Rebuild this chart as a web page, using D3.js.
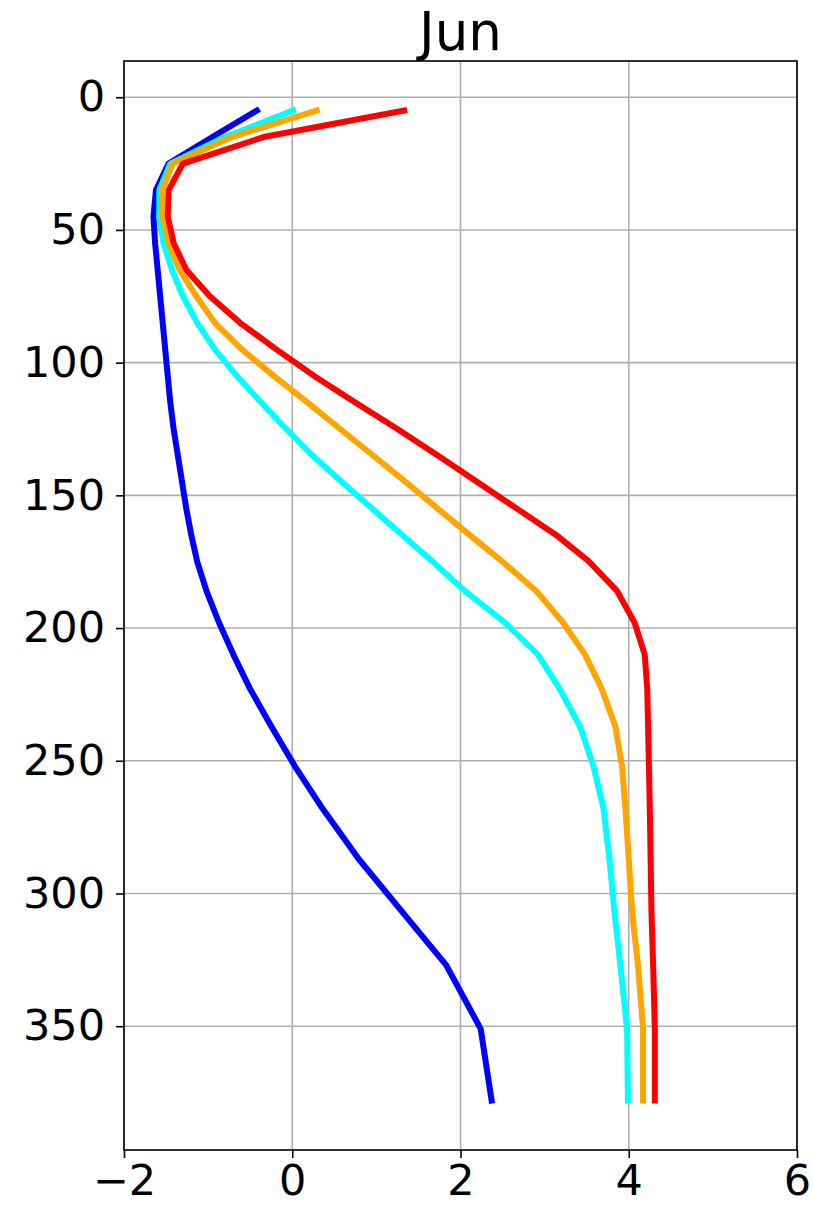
<!DOCTYPE html>
<html>
<head>
<meta charset="utf-8">
<script src="https://cdn.jsdelivr.net/npm/d3@7/dist/d3.min.js"></script>
<style>
  html, body { margin: 0; padding: 0; background: #ffffff; }
  svg { display: block; }
  text { font-family: "DejaVu Sans", sans-serif; fill: #000; }
</style>
</head>
<body>
<script>
// Depth levels (m) and profile values for each series
const depths = [5,15,25,35,45,55,65,75,85,95,105,115,125,135,145,155,165,175,186,198,210,223,237,252,268,287,307,327,351,378];
const blueSeries   = [-0.42,-0.95,-1.47,-1.62,-1.65,-1.63,-1.60,-1.57,-1.54,-1.51,-1.48,-1.45,-1.41,-1.36,-1.31,-1.26,-1.20,-1.13,-1.02,-0.87,-0.70,-0.50,-0.25,0.03,0.36,0.79,1.31,1.83,2.24,2.37];
const cyanSeries   = [0.01,-0.80,-1.45,-1.58,-1.58,-1.53,-1.43,-1.30,-1.13,-0.92,-0.66,-0.37,-0.07,0.24,0.59,0.95,1.31,1.67,2.05,2.53,2.92,3.18,3.42,3.58,3.70,3.77,3.83,3.90,3.98,3.99];
const orangeSeries = [0.29,-0.72,-1.42,-1.55,-1.54,-1.47,-1.34,-1.14,-0.92,-0.60,-0.22,0.18,0.57,0.96,1.35,1.73,2.11,2.50,2.90,3.22,3.48,3.68,3.84,3.92,3.96,4.00,4.04,4.11,4.17,4.17];
const redSeries    = [1.33,-0.34,-1.30,-1.47,-1.48,-1.41,-1.26,-0.98,-0.62,-0.19,0.26,0.75,1.25,1.73,2.20,2.67,3.14,3.53,3.86,4.07,4.19,4.22,4.23,4.24,4.25,4.26,4.27,4.29,4.31,4.31];
const seriesColors = ["#0000ff", "#00ffff", "#ffa500", "#ff0000"];
const xTicks = [-2, 0, 2, 4, 6];
const yTicks = [0, 50, 100, 150, 200, 250, 300, 350];
const chartTitle = "Jun";

const W = 813, H = 1206;
const margin = { left: 124, right: W - 797, top: 61, bottom: H - 1150 };

const svg = d3.select("body").append("svg").attr("width", W).attr("height", H);

// x: value, y: depth (inverted, deeper downward), 5% padding around the depth range
const yMin = d3.min(depths), yMax = d3.max(depths);
const pad = (yMax - yMin) * 0.05;
const x = d3.scaleLinear().domain([-2, 6]).range([margin.left, W - margin.right]);
const y = d3.scaleLinear().domain([yMin - pad, yMax + pad]).range([margin.top, H - margin.bottom]);

const g = svg.append("g");

// grid
g.append("g").selectAll("line").data(xTicks).join("line")
  .attr("x1", d => x(d)).attr("x2", d => x(d))
  .attr("y1", margin.top).attr("y2", H - margin.bottom)
  .attr("stroke", "#b0b0b0").attr("stroke-width", 1.6);
g.append("g").selectAll("line").data(yTicks).join("line")
  .attr("x1", margin.left).attr("x2", W - margin.right)
  .attr("y1", d => y(d)).attr("y2", d => y(d))
  .attr("stroke", "#b0b0b0").attr("stroke-width", 1.6);

// profiles
const allSeries = [blueSeries, cyanSeries, orangeSeries, redSeries];
const line = d3.line().x(d => x(d.v)).y(d => y(d.z));
const clipId = "plotclip";
svg.append("clipPath").attr("id", clipId).append("rect")
  .attr("x", margin.left).attr("y", margin.top)
  .attr("width", W - margin.left - margin.right).attr("height", H - margin.top - margin.bottom);
const lines = g.append("g").attr("clip-path", `url(#${clipId})`);
allSeries.forEach((vals, i) => {
  const pts = depths.map((z, k) => ({ z, v: vals[k] }));
  lines.append("path").datum(pts)
    .attr("d", line)
    .attr("fill", "none")
    .attr("stroke", seriesColors[i])
    .attr("stroke-width", 6)
    .attr("stroke-linejoin", "round")
    .attr("stroke-linecap", "square");
});

// axes
const fmt = d => (d < 0 ? "\u2212" + Math.abs(d) : String(d));
const xAxis = d3.axisBottom(x).tickValues(xTicks).tickSize(8).tickPadding(6).tickFormat(fmt);
const yAxis = d3.axisLeft(y).tickValues(yTicks).tickSize(8).tickPadding(11).tickFormat(fmt);

const gx = svg.append("g").attr("transform", `translate(0,${H - margin.bottom})`).call(xAxis);
const gy = svg.append("g").attr("transform", `translate(${margin.left},0)`).call(yAxis);
[gx, gy].forEach(a => {
  a.select(".domain").remove();
  a.selectAll(".tick line").attr("stroke", "#000").attr("stroke-width", 1.6);
  a.selectAll(".tick text").attr("font-size", 43).attr("font-family", "DejaVu Sans, sans-serif").attr("fill", "#000");
});

// frame
svg.append("rect")
  .attr("x", margin.left).attr("y", margin.top)
  .attr("width", W - margin.left - margin.right).attr("height", H - margin.top - margin.bottom)
  .attr("fill", "none").attr("stroke", "#000").attr("stroke-width", 1.6);

// title
svg.append("text")
  .attr("x", (margin.left + W - margin.right) / 2)
  .attr("y", 50)
  .attr("text-anchor", "middle")
  .attr("font-size", 53)
  .text(chartTitle);
</script>
</body>
</html>
